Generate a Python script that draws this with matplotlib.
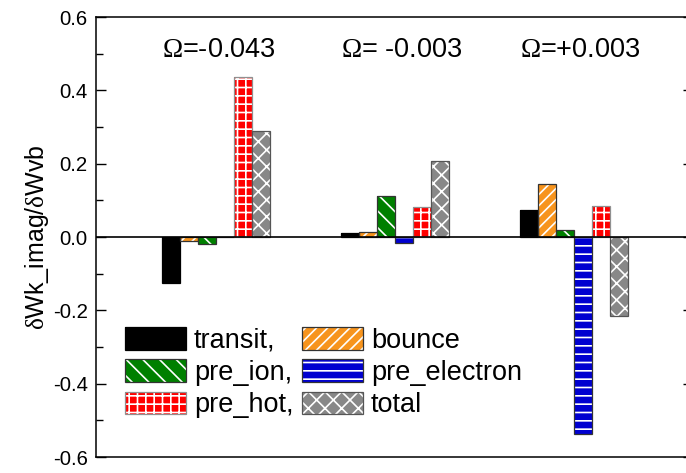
import matplotlib
matplotlib.use("Agg")
import matplotlib.pyplot as plt
import numpy as np
from matplotlib.patches import Patch
from matplotlib.ticker import MultipleLocator, NullLocator

plt.rcParams["font.family"] = ["Liberation Sans", "DejaVu Sans"]
plt.rcParams["mathtext.fontset"] = "custom"
plt.rcParams["mathtext.rm"] = "Liberation Serif"
plt.rcParams["mathtext.it"] = "Liberation Serif:italic"
plt.rcParams["hatch.linewidth"] = 1.2

# data
group_x = [1, 2, 3]
group_labels = [r"$\mathrm{Ω}$=-0.043", r"$\mathrm{Ω}$= -0.003", r"$\mathrm{Ω}$=+0.003"]
series = ["transit", "bounce", "pre_ion", "pre_electron", "pre_hot", "total"]
transit = [-0.125, 0.010, 0.075]
bounce = [-0.010, 0.015, 0.144]
pre_ion = [-0.020, 0.112, 0.019]
pre_electron = [0.0, -0.015, -0.538]
pre_hot = [0.438, 0.081, 0.084]
total = [0.289, 0.207, -0.215]
legend_labels = ["transit,", "bounce", "pre_ion,", "pre_electron", "pre_hot,", "total"]

values = [transit, bounce, pre_ion, pre_electron, pre_hot, total]
faces = ["black", "#F7941D", "#008000", "#0000D0", "#FF0000", "#888888"]
hatches = [None, "///", "\\\\", "--", "++", "xx"]
edges = ["black", "#333333", "#333333", "#333333", "#909090", "#555555"]

fig = plt.figure(figsize=(6.86, 4.73), dpi=100)
ax = fig.add_axes([0.140, 0.0338, 0.870, 0.930])

width = 0.1
x = np.array(group_x, dtype=float)
handles = []
for i, (vals, fc, h, ec) in enumerate(zip(values, faces, hatches, edges)):
    pos = x + (i - 2.5) * width
    ax.bar(pos, vals, width, color=fc, edgecolor="white", hatch=h, linewidth=0, zorder=2)
    ax.bar(pos, vals, width, fill=False, edgecolor=ec, linewidth=0.9, zorder=3)
    handles.append((Patch(facecolor=fc, edgecolor="white", hatch=h, linewidth=0),
                    Patch(fill=False, edgecolor=ec, linewidth=0.9)))

ax.axhline(0, color="black", linewidth=1.2, zorder=4)

for gx, lab in zip(group_x, group_labels):
    ax.text(gx - 3 * width, 0.51, lab, fontsize=19.5, ha="left", va="center")

ax.set_xlim(0.33, 3.665)
ax.set_ylim(-0.6, 0.6)
ax.yaxis.set_minor_locator(MultipleLocator(0.1))
ax.xaxis.set_major_locator(NullLocator())
yticks = np.arange(-0.6, 0.61, 0.2)
ax.set_yticks(yticks)
ax.set_yticklabels([f"{v:.1f}" for v in yticks])
ax.tick_params(axis="y", which="both", direction="in", right=True, labelsize=14.7, pad=6)
ax.tick_params(axis="y", which="major", length=7.2, width=1)
ax.tick_params(axis="y", which="minor", length=5, width=1)
for sp in ax.spines.values():
    sp.set_linewidth(1.1)
ax.set_ylabel(r"$\mathrm{\delta}$Wk_imag/$\mathrm{\delta}$Wvb", fontsize=18, labelpad=1)

order = [0, 2, 4, 1, 3, 5]
ax.legend([handles[k] for k in order], [legend_labels[k] for k in order],
          ncol=2, loc="upper left", bbox_to_anchor=(0.0486, 0.295),
          frameon=False, fontsize=19.5, handlelength=2.25, handleheight=0.89,
          handletextpad=0.3, columnspacing=0.3, labelspacing=0.21,
          borderaxespad=0, borderpad=0)

fig.savefig("out.png", dpi=100)
